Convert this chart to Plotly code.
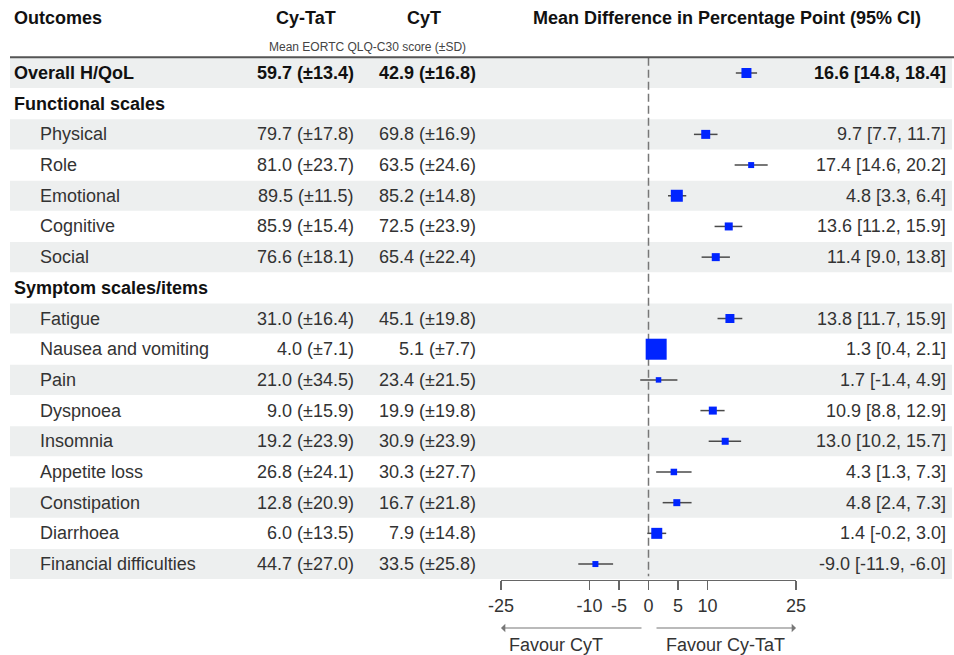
import plotly.graph_objects as go

# ---------------- data ----------------
outcomes = ["Overall H/QoL", "Functional scales", "Physical", "Role", "Emotional",
            "Cognitive", "Social", "Symptom scales/items", "Fatigue",
            "Nausea and vomiting", "Pain", "Dyspnoea", "Insomnia", "Appetite loss",
            "Constipation", "Diarrhoea", "Financial difficulties"]
is_bold = [True, True, False, False, False, False, False, True, False,
           False, False, False, False, False, False, False, False]
cytat_mean = [59.7, None, 79.7, 81.0, 89.5, 85.9, 76.6, None, 31.0, 4.0, 21.0, 9.0, 19.2, 26.8, 12.8, 6.0, 44.7]
cytat_sd = [13.4, None, 17.8, 23.7, 11.5, 15.4, 18.1, None, 16.4, 7.1, 34.5, 15.9, 23.9, 24.1, 20.9, 13.5, 27.0]
cyt_mean = [42.9, None, 69.8, 63.5, 85.2, 72.5, 65.4, None, 45.1, 5.1, 23.4, 19.9, 30.9, 30.3, 16.7, 7.9, 33.5]
cyt_sd = [16.8, None, 16.9, 24.6, 14.8, 23.9, 22.4, None, 19.8, 7.7, 21.5, 19.8, 23.9, 27.7, 21.8, 14.8, 25.8]
md = [16.6, None, 9.7, 17.4, 4.8, 13.6, 11.4, None, 13.8, 1.3, 1.7, 10.9, 13.0, 4.3, 4.8, 1.4, -9.0]
ci_lo = [14.8, None, 7.7, 14.6, 3.3, 11.2, 9.0, None, 11.7, 0.4, -1.4, 8.8, 10.2, 1.3, 2.4, -0.2, -11.9]
ci_hi = [18.4, None, 11.7, 20.2, 6.4, 15.9, 13.8, None, 15.9, 2.1, 4.9, 12.9, 15.7, 7.3, 7.3, 3.0, -6.0]
weight = [10, None, 9, 6, 12, 8, 8, None, 9, 21, 5.5, 8, 7, 6.5, 7, 11, 6]
shaded = [True, False, True, False, True, False, True, False, True, False, True, False, True, False, True, False, True]
tick_vals = [-25, -10, -5, 0, 5, 10, 25]

FONT = "Liberation Sans, Arial, sans-serif"
W, H = 954, 655

rows = list(range(len(outcomes)))
px = lambda v: v / W

fig = go.Figure()

pts = [i for i in rows if md[i] is not None]
# confidence intervals (drawn first, underneath the squares)
fig.add_trace(go.Scatter(
    x=[md[i] for i in pts], y=pts, mode="markers",
    marker=dict(size=1, color="rgba(0,0,0,0)"),
    error_x=dict(type="data", symmetric=False,
                 array=[ci_hi[i] - md[i] for i in pts],
                 arrayminus=[md[i] - ci_lo[i] for i in pts],
                 color="#4a4a4a", thickness=1.5, width=0),
    hoverinfo="skip", showlegend=False, cliponaxis=False))
# point estimates
fig.add_trace(go.Scatter(
    x=[md[i] for i in pts], y=pts, mode="markers",
    marker=dict(symbol="square", size=[weight[i] for i in pts], color="#0024ff",
                opacity=1, line=dict(width=0)),
    hoverinfo="skip", showlegend=False, cliponaxis=False))

shapes = []
for i in rows:
    if shaded[i]:
        shapes.append(dict(type="rect", xref="paper", yref="y", x0=px(10), x1=px(952),
                           y0=i - 0.49, y1=i + 0.49, fillcolor="#edefef",
                           line=dict(width=0), layer="below"))
shapes.append(dict(type="line", xref="paper", yref="y", x0=px(10), x1=1,
                   y0=-0.51, y1=-0.51, line=dict(color="#555555", width=2)))
shapes.append(dict(type="line", xref="x", yref="y", x0=0, x1=0, y0=-0.5, y1=16.4,
                   line=dict(color="#777777", width=1.5, dash="8px,4px"), layer="below"))

ann = []
def txt(x, y, t, anchor, size=18, bold=False, color="#333333", yref="y"):
    ann.append(dict(x=x, y=y, xref="paper", yref=yref, text=f"<b>{t}</b>" if bold else t,
                    showarrow=False, xanchor=anchor, yanchor="middle",
                    font=dict(family=FONT, size=size, color="#111111" if bold else color)))

txt(px(12), -1.79, "Outcomes", "left", bold=True)
txt(px(306), -1.79, "Cy-TaT", "center", bold=True)
txt(px(424), -1.79, "CyT", "center", bold=True)
txt(px(727), -1.79, "Mean Difference in Percentage Point (95% CI)", "center", bold=True)
txt(px(367), -0.85, "Mean EORTC QLQ-C30 score (±SD)", "center", size=12, color="#444444")

for i in rows:
    b = is_bold[i]
    txt(px(12) if b else px(38), i, outcomes[i], "left", bold=b)
    if cytat_mean[i] is not None:
        txt(px(356), i, f"{cytat_mean[i]:.1f} (±{cytat_sd[i]:.1f})", "right", bold=b)
        txt(px(478), i, f"{cyt_mean[i]:.1f} (±{cyt_sd[i]:.1f})", "right", bold=b)
    if md[i] is not None:
        txt(px(948), i, f"{md[i]:.1f} [{ci_lo[i]:.1f}, {ci_hi[i]:.1f}]", "right", bold=b)

arrow_y = (H - 628) / H
ann.append(dict(x=-25, y=arrow_y, xref="x", yref="paper", ax=142, ay=0,
                axref="pixel", ayref="pixel", showarrow=True, arrowhead=1,
                arrowsize=1.2, arrowwidth=1.2, arrowcolor="#777777", text=""))
ann.append(dict(x=25, y=arrow_y, xref="x", yref="paper", ax=-141, ay=0,
                axref="pixel", ayref="pixel", showarrow=True, arrowhead=1,
                arrowsize=1.2, arrowwidth=1.2, arrowcolor="#777777", text=""))
lab_y = (H - 645) / H
ann.append(dict(x=px(556), y=lab_y, xref="paper", yref="paper", text="Favour CyT",
                showarrow=False, xanchor="center", yanchor="middle",
                font=dict(family=FONT, size=18, color="#333333")))
ann.append(dict(x=px(725), y=lab_y, xref="paper", yref="paper", text="Favour Cy-TaT",
                showarrow=False, xanchor="center", yanchor="middle",
                font=dict(family=FONT, size=18, color="#333333")))

axis_px = 580
row0, step = 73, 30.69
fig.update_layout(
    width=W, height=H, autosize=False, margin=dict(l=0, r=0, t=0, b=0, pad=0, autoexpand=False),
    paper_bgcolor="white", plot_bgcolor="rgba(0,0,0,0)",
    shapes=shapes, annotations=ann, hovermode=False,
    xaxis=dict(domain=[px(501), px(796)], range=[-25, 25], tickvals=tick_vals,
               ticktext=[str(v) for v in tick_vals], showgrid=False, zeroline=False,
               showline=True, linecolor="#666666", linewidth=1.3, automargin=False,
               ticks="outside", ticklen=9, tickwidth=1.3, tickcolor="#666666",
               tickfont=dict(family=FONT, size=18, color="#333333"), anchor="y",
               fixedrange=True),
    yaxis=dict(domain=[(H - axis_px) / H, 1],
               range=[(axis_px - row0) / step, (0 - row0) / step],
               visible=False, showgrid=False, zeroline=False, automargin=False,
               fixedrange=True),
)

post = ("document.documentElement.style.overflow='hidden';"
        "document.body.style.margin='0';document.body.style.padding='0';"
        "document.body.style.overflow='hidden';"
        "var gd=document.getElementById('{plot_id}');"
        "Plotly.relayout(gd,{width:954,height:655});")
fig.write_html("out.html", config={"responsive": False, "displayModeBar": False,
                                   "staticPlot": True}, post_script=post)
